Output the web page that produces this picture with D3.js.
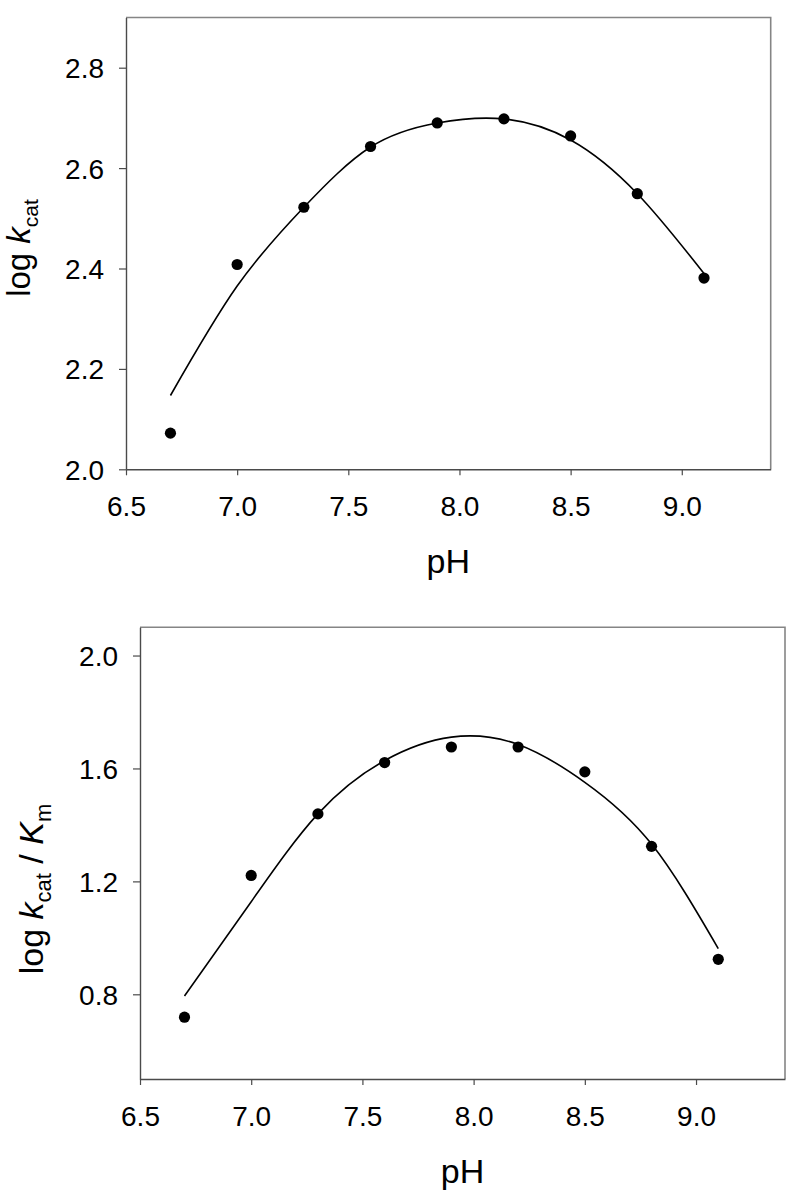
<!DOCTYPE html>
<html>
<head>
<meta charset="utf-8">
<script src="https://cdn.jsdelivr.net/npm/d3@7"></script>
<style>
  body { margin: 0; background: #fff; }
  svg { display: block; font-family: "Liberation Sans", Arial, Helvetica, sans-serif; }
</style>
</head>
<body>
<svg id="chart" width="800" height="1203"></svg>
<script>
// measured pH values
const pH = [6.7, 7.0, 7.3, 7.6, 7.9, 8.2, 8.5, 8.8, 9.1]

// panel A: log kcat
const logKcat = [2.072, 2.408, 2.522, 2.643, 2.690, 2.698, 2.664, 2.549, 2.381]
const logKcatFit = [2.147, 2.365, 2.522, 2.642, 2.690, 2.698, 2.656, 2.549, 2.390]

// panel B: log kcat / Km
const logKcatKm = [0.719, 1.221, 1.439, 1.621, 1.676, 1.676, 1.588, 1.324, 0.924]
const logKcatKmFit = [0.794, 1.128, 1.439, 1.628, 1.711, 1.685, 1.551, 1.332, 0.962]

// axis ticks
const xTicks = [6.5, 7.0, 7.5, 8.0, 8.5, 9.0]
const yTicksA = [2.0, 2.2, 2.4, 2.6, 2.8]
const yTicksB = [0.8, 1.2, 1.6, 2.0]

const svg = d3.select('#chart')

svg.append('rect')
  .attr('width', 800)
  .attr('height', 1203)
  .attr('fill', '#fff')

function drawPanel(opts) {
  const { box, xDomain, yDomain, yTicks, points, fit, label, labelX, labelY, labelSize, xLabelY } = opts

  const x = d3.scaleLinear().domain(xDomain).range([box.left, box.right])
  const y = d3.scaleLinear().domain(yDomain).range([box.bottom, box.top])

  const g = svg.append('g')

  // frame (top + right)
  g.append('path')
    .attr('d', `M${box.left},${box.top}H${box.right}V${box.bottom}`)
    .attr('fill', 'none')
    .attr('stroke', '#858585')
    .attr('stroke-width', 1.6)

  const xAxis = g.append('g')
    .attr('transform', `translate(0,${box.bottom})`)
    .call(d3.axisBottom(x).tickValues(xTicks).tickFormat(d3.format('.1f')).tickSize(6).tickSizeOuter(0).tickPadding(21))
  const yAxis = g.append('g')
    .attr('transform', `translate(${box.left},0)`)
    .call(d3.axisLeft(y).tickValues(yTicks).tickFormat(d3.format('.1f')).tickSize(7).tickSizeOuter(0).tickPadding(15))

  for (const ax of [xAxis, yAxis]) {
    ax.select('.domain').attr('stroke', '#4a4a4a').attr('stroke-width', 1.4)
    ax.selectAll('.tick line').attr('stroke', '#4a4a4a').attr('stroke-width', 1.2)
    ax.selectAll('.tick text')
      .attr('fill', '#000')
      .style('font-size', '28px')
      .style('font-family', '"Liberation Sans", Arial, sans-serif')
  }
  yAxis.selectAll('.tick text').attr('dy', '0.36em')
  xAxis.selectAll('.tick text').attr('dy', '0.71em')

  // fitted curve
  const line = d3.line()
    .x((d, i) => x(pH[i]))
    .y((d) => y(d))
    .curve(d3.curveNatural)

  g.append('path')
    .datum(fit)
    .attr('d', line)
    .attr('fill', 'none')
    .attr('stroke', '#000')
    .attr('stroke-width', 1.6)

  // data points
  g.append('g')
    .selectAll('circle')
    .data(points)
    .join('circle')
    .attr('cx', (d, i) => x(pH[i]))
    .attr('cy', (d) => y(d))
    .attr('r', 5.6)
    .attr('fill', '#000')

  // x title
  g.append('text')
    .attr('x', (box.left + box.right) / 2)
    .attr('y', xLabelY)
    .attr('text-anchor', 'middle')
    .style('font-size', '34px')
    .text('pH')

  // y title
  const t = g.append('text')
    .attr('transform', `translate(${labelX},${labelY}) rotate(-90)`)
    .attr('text-anchor', 'middle')
    .style('font-size', labelSize + 'px')
  const sub = Math.round(labelSize * 0.65)
  label.forEach((part) => {
    const s = t.append('tspan').text(part.text)
    if (part.italic) s.style('font-style', 'italic')
    if (part.sub) {
      s.style('font-size', sub + 'px').attr('dy', 8)
    } else if (part.after) {
      s.attr('dy', -8)
    }
  })
}

drawPanel({
  box: { left: 126, top: 17.5, right: 770.7, bottom: 469.3 },
  xDomain: [6.5, 9.4],
  yDomain: [2.0, 2.9],
  yTicks: yTicksA,
  points: logKcat,
  fit: logKcatFit,
  label: [
    { text: 'log ' },
    { text: 'k', italic: true },
    { text: 'cat', sub: true },
  ],
  labelX: 30,
  labelY: 248,
  labelSize: 33,
  xLabelY: 573,
})

drawPanel({
  box: { left: 140, top: 627.3, right: 785, bottom: 1079 },
  xDomain: [6.5, 9.4],
  yDomain: [0.5, 2.1],
  yTicks: yTicksB,
  points: logKcatKm,
  fit: logKcatKmFit,
  label: [
    { text: 'log ' },
    { text: 'k', italic: true },
    { text: 'cat', sub: true },
    { text: ' / ', after: true },
    { text: 'K', italic: true },
    { text: 'm', sub: true },
  ],
  labelX: 43,
  labelY: 889,
  labelSize: 34,
  xLabelY: 1183,
})
</script>
</body>
</html>
